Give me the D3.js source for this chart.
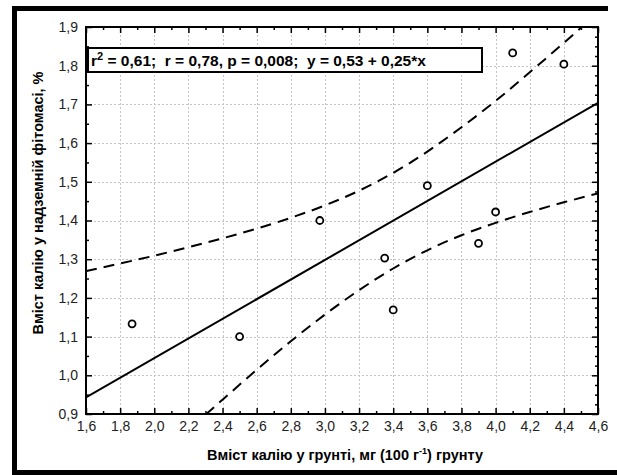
<!DOCTYPE html>
<html>
<head>
<meta charset="utf-8">
<script src="https://cdn.jsdelivr.net/npm/d3@7"></script>
<style>
  html, body { margin: 0; padding: 0; background: #fff; }
  svg { display: block; font-family: "Liberation Sans", Arial, sans-serif; }
</style>
</head>
<body>
<svg id="chart" width="617" height="475"></svg>
<script>
// 観測値 (土壌中のカリウム vs 地上部バイオマス中のカリウム)
const soilPotassium = [1.87, 2.50, 2.97, 3.35, 3.40, 3.60, 3.90, 4.00, 4.10, 4.40];
const plantPotassium = [1.133, 1.100, 1.400, 1.303, 1.169, 1.490, 1.341, 1.422, 1.833, 1.804];

// 回帰直線 (両端の値を図から読み取り)
const fitX = [1.6, 4.6];
const fitY = [0.943, 1.704];

// 95% 信頼帯
const bandX = [1.6, 1.8, 2.0, 2.2, 2.4, 2.6, 2.8, 3.0, 3.2, 3.4, 3.6, 3.8, 4.0, 4.2, 4.4, 4.6];
const bandUpper = [1.269, 1.289, 1.309, 1.331, 1.354, 1.379, 1.407, 1.439, 1.477, 1.523, 1.578, 1.641, 1.709, 1.783, 1.859, 1.937];
const bandLower = [0.617, 0.699, 0.779, 0.859, 0.937, 1.014, 1.088, 1.157, 1.220, 1.276, 1.323, 1.362, 1.394, 1.422, 1.447, 1.470];

// 目盛り
const xTickValues = [1.6, 1.8, 2.0, 2.2, 2.4, 2.6, 2.8, 3.0, 3.2, 3.4, 3.6, 3.8, 4.0, 4.2, 4.4, 4.6];
const yTickValues = [0.9, 1.0, 1.1, 1.2, 1.3, 1.4, 1.5, 1.6, 1.7, 1.8, 1.9];

// テキスト
const xTitle = ["Вміст калію у грунті, мг (100 г", "-1", ") грунту"];
const yTitle = "Вміст калію у надземній фітомасі, %";
const statsText = ["r", "2", " = 0,61;  r = 0,78, p = 0,008;  y = 0,53 + 0,25*x"];

function drawChart() {
    const svg = d3.select('#chart');

    // プロット領域
    const plot = { left: 86, right: 598, top: 27, bottom: 414 };

    const x = d3.scaleLinear().domain([1.6, 4.6]).range([plot.left, plot.right]);
    const y = d3.scaleLinear().domain([0.9, 1.9]).range([plot.bottom, plot.top]);

    const fmt = v => d3.format('.1f')(v).replace('.', ',');

    // 外枠 (太い黒線)
    const frame = svg.append('g').attr('fill', '#000');
    frame.append('rect').attr('x', 12).attr('y', 6).attr('width', 596).attr('height', 5);
    frame.append('rect').attr('x', 12).attr('y', 6).attr('width', 5).attr('height', 469);
    frame.append('rect').attr('x', 12).attr('y', 470).attr('width', 605).attr('height', 5);

    // クリップ
    svg.append('defs').append('clipPath')
        .attr('id', 'plot-clip')
        .append('rect')
        .attr('x', plot.left)
        .attr('y', plot.top)
        .attr('width', plot.right - plot.left)
        .attr('height', plot.bottom - plot.top);

    // グリッド線
    const grid = svg.append('g')
        .attr('stroke', '#c4c4c4')
        .attr('stroke-width', 1)
        .attr('stroke-dasharray', '2,2');

    grid.selectAll('.vgrid')
        .data(xTickValues.slice(1, -1))
        .enter()
        .append('line')
        .attr('x1', d => Math.round(x(d)) + 0.5)
        .attr('x2', d => Math.round(x(d)) + 0.5)
        .attr('y1', plot.top)
        .attr('y2', plot.bottom);

    grid.selectAll('.hgrid')
        .data(yTickValues.slice(1, -1))
        .enter()
        .append('line')
        .attr('x1', plot.left)
        .attr('x2', plot.right)
        .attr('y1', d => Math.round(y(d)) + 0.5)
        .attr('y2', d => Math.round(y(d)) + 0.5);

    // 補助目盛りの位置
    const xMinor = d3.range(17, 46, 2).map(v => v / 10);
    const yMinorLeft = d3.range(19, 38, 2).map(v => v / 20);
    const yMinorRight = d3.range(36, 77).map(v => v / 40).filter(v => Math.abs(v * 10 - Math.round(v * 10)) > 1e-6);

    function styleAxis(g, showLabels) {
        g.select('.domain').remove();
        g.selectAll('.tick line').attr('stroke', '#000').attr('stroke-width', 1.5);
        g.selectAll('.tick text')
            .attr('fill', '#222')
            .style('font-size', '14px');
        if (!showLabels) g.selectAll('.tick text').remove();
    }

    // 下軸
    svg.append('g')
        .attr('transform', `translate(0,${plot.bottom})`)
        .call(d3.axisBottom(x).tickValues(xTickValues).tickSize(-6).tickPadding(7).tickFormat(fmt))
        .call(g => styleAxis(g, true));
    svg.append('g')
        .attr('transform', `translate(0,${plot.bottom})`)
        .call(d3.axisBottom(x).tickValues(xMinor).tickSize(-3).tickFormat(''))
        .call(g => styleAxis(g, false));

    // 上軸
    svg.append('g')
        .attr('transform', `translate(0,${plot.top})`)
        .call(d3.axisTop(x).tickValues(xTickValues).tickSize(-6).tickFormat(''))
        .call(g => styleAxis(g, false));
    svg.append('g')
        .attr('transform', `translate(0,${plot.top})`)
        .call(d3.axisTop(x).tickValues(xMinor).tickSize(-3).tickFormat(''))
        .call(g => styleAxis(g, false));

    // 左軸
    svg.append('g')
        .attr('transform', `translate(${plot.left},0)`)
        .call(d3.axisLeft(y).tickValues(yTickValues).tickSize(-6).tickPadding(8).tickFormat(fmt))
        .call(g => styleAxis(g, true));
    svg.append('g')
        .attr('transform', `translate(${plot.left},0)`)
        .call(d3.axisLeft(y).tickValues(yMinorLeft).tickSize(-3).tickFormat(''))
        .call(g => styleAxis(g, false));

    // 右軸
    svg.append('g')
        .attr('transform', `translate(${plot.right},0)`)
        .call(d3.axisRight(y).tickValues(yTickValues).tickSize(-6).tickFormat(''))
        .call(g => styleAxis(g, false));
    svg.append('g')
        .attr('transform', `translate(${plot.right},0)`)
        .call(d3.axisRight(y).tickValues(yMinorRight).tickSize(-3).tickFormat(''))
        .call(g => styleAxis(g, false));

    // プロット枠
    svg.append('rect')
        .attr('x', plot.left)
        .attr('y', plot.top)
        .attr('width', plot.right - plot.left)
        .attr('height', plot.bottom - plot.top)
        .attr('fill', 'none')
        .attr('stroke', '#000')
        .attr('stroke-width', 2);

    const lines = svg.append('g').attr('clip-path', 'url(#plot-clip)');

    // 信頼帯 (破線)
    const bandLine = d3.line()
        .x((d, i) => x(bandX[i]))
        .y(d => y(d))
        .curve(d3.curveMonotoneX);

    [bandUpper, bandLower].forEach(band => {
        lines.append('path')
            .attr('d', bandLine(band))
            .attr('fill', 'none')
            .attr('stroke', '#000')
            .attr('stroke-width', 2)
            .attr('stroke-dasharray', '11,7');
    });

    // 回帰直線
    lines.append('path')
        .attr('d', d3.line().x((d, i) => x(fitX[i])).y(d => y(d))(fitY))
        .attr('fill', 'none')
        .attr('stroke', '#000')
        .attr('stroke-width', 2);

    // 散布点
    svg.append('g')
        .selectAll('circle')
        .data(soilPotassium)
        .enter()
        .append('circle')
        .attr('cx', d => x(d))
        .attr('cy', (d, i) => y(plantPotassium[i]))
        .attr('r', 3.5)
        .attr('fill', '#fff')
        .attr('stroke', '#000')
        .attr('stroke-width', 1.8);

    // 統計量のボックス
    svg.append('rect')
        .attr('x', 88)
        .attr('y', 48)
        .attr('width', 394)
        .attr('height', 24)
        .attr('fill', '#fff')
        .attr('stroke', '#000')
        .attr('stroke-width', 2);

    const stats = svg.append('text')
        .attr('x', 91)
        .attr('y', 66)
        .attr('fill', '#000')
        .style('font-size', '15.5px')
        .style('font-weight', 'bold')
        .style('white-space', 'pre');
    stats.append('tspan').text(statsText[0]);
    stats.append('tspan').attr('dy', -6).style('font-size', '11px').text(statsText[1]);
    stats.append('tspan').attr('dy', 6).text(statsText[2]);

    // 軸タイトル
    const xt = svg.append('text')
        .attr('x', 345)
        .attr('y', 460)
        .attr('text-anchor', 'middle')
        .attr('fill', '#000')
        .style('font-size', '14.5px')
        .style('font-weight', 'bold');
    xt.append('tspan').text(xTitle[0]);
    xt.append('tspan').attr('dy', -6).style('font-size', '9px').text(xTitle[1]);
    xt.append('tspan').attr('dy', 6).text(xTitle[2]);

    svg.append('text')
        .attr('transform', 'translate(43,203) rotate(-90)')
        .attr('text-anchor', 'middle')
        .attr('fill', '#000')
        .style('font-size', '14.5px')
        .style('font-weight', 'bold')
        .text(yTitle);
}

document.addEventListener('DOMContentLoaded', drawChart);
</script>
</body>
</html>
